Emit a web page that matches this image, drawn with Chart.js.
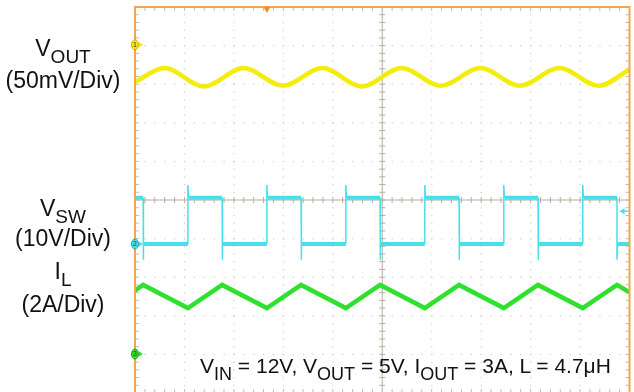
<!DOCTYPE html>
<html>
<head>
<meta charset="utf-8">
<script src="https://cdn.jsdelivr.net/npm/chart.js@4.4.1/dist/chart.umd.min.js"></script>
<style>
  html, body { margin: 0; padding: 0; overflow: hidden; background: #fff; }
  #wrap { position: relative; width: 634px; height: 394px; }
  .lbl {
    position: absolute;
    font-family: "Liberation Sans", Arial, sans-serif;
    font-size: 23px;
    line-height: 23px;
    color: #111;
    white-space: nowrap;
  }
  .side { left: 0; width: 126px; text-align: center; }
  .lbl sub { font-size: 19px; line-height: 0; vertical-align: -7px; }
  .note sub { font-size: 18px; }
</style>
</head>
<body>
<div id="wrap">
  <canvas id="scope"></canvas>
  <div class="lbl side" style="top:37px">V<sub>OUT</sub></div>
  <div class="lbl side" style="top:69px">(50mV/Div)</div>
  <div class="lbl side" style="top:197px">V<sub>SW</sub></div>
  <div class="lbl side" style="top:227px">(10V/Div)</div>
  <div class="lbl side" style="top:260px">I<sub>L</sub></div>
  <div class="lbl side" style="top:293px">(2A/Div)</div>
  <div class="lbl note" style="top:355px; left:200px; font-size:21px; line-height:21px">V<sub>IN</sub> = 12V, V<sub>OUT</sub> = 5V, I<sub>OUT</sub> = 3A, L = 4.7&mu;H</div>
</div>
<script>
// time is in screen divisions (10 across), values in the channel's own units

// CH1 - output ripple, peaks and valleys (mV from the ch1 marker)
const voutT  = [0, 0.597, 1.395, 2.194, 2.992, 3.791, 4.589, 5.388, 6.186, 6.985, 7.783, 8.582, 9.38, 10];
const voutMv = [-48, -30, -54, -30, -53, -30, -54, -30, -53, -30, -53, -30, -53, -32];

// CH2 - switch node edges and levels (V)
const swFall = [0.165, 1.762, 3.359, 4.956, 6.553, 8.15, 9.747];
const swRise = [1.07, 2.667, 4.264, 5.861, 7.458, 9.055];
const swHigh = 12, swLow = 0, swOvershoot = 15.3, swUndershoot = -4.1;

// CH3 - inductor current corners (A)
const ilT = [0, 0.165, 1.07, 1.762, 2.667, 3.359, 4.264, 4.956, 5.861, 6.553, 7.458, 8.15, 9.055, 9.747, 10];
const ilA = [3.3, 3.58, 2.38, 3.58, 2.38, 3.58, 2.38, 3.58, 2.38, 3.58, 2.38, 3.58, 2.38, 3.58, 3.2];

// channel scale + marker position (divisions from screen centre)
const ch1 = { perDiv: 50, ground: 4.02 };
const ch2 = { perDiv: 10, ground: -1.14 };
const ch3 = { perDiv: 2, ground: -3.99 };
const trigTime = 2.667, trigLevel = 8.5;

const toDiv = (ch, v) => ch.ground + v / ch.perDiv;

const voutPts = voutT.map((t, i) => ({ x: t, y: toDiv(ch1, voutMv[i]) }));
const ilPts = ilT.map((t, i) => ({ x: t, y: toDiv(ch3, ilA[i]) }));

const edges = swFall.map(t => ({ t, up: false }))
  .concat(swRise.map(t => ({ t, up: true })))
  .sort((a, b) => a.t - b.t);
const vswRaw = [{ x: 0, y: swHigh }];
edges.forEach(e => {
  if (e.up) vswRaw.push({ x: e.t, y: swLow }, { x: e.t, y: swOvershoot }, { x: e.t + 0.012, y: swHigh });
  else vswRaw.push({ x: e.t, y: swHigh }, { x: e.t, y: swUndershoot }, { x: e.t + 0.012, y: swLow });
});
vswRaw.push({ x: 10, y: swLow });
const vswPts = vswRaw.map(p => ({ x: p.x, y: toDiv(ch2, p.y) }));

const YELLOW = "#f4ec0a", CYAN = "#45e0ee", GREEN = "#2fe02f", ORANGE = "#f2a64e";

// graticule: dotted divisions, centre cross with ticks, edge ticks
const graticule = {
  id: "graticule",
  beforeDatasetsDraw(chart) {
    const { ctx, chartArea: a, scales: { x, y } } = chart;
    ctx.save();
    ctx.fillStyle = "#cccccc";
    for (let i = 1; i < 10; i++) {
      if (i === 5) continue;
      const px = x.getPixelForValue(i);
      for (let m = -25; m <= 25; m++) ctx.fillRect(px - 0.5, y.getPixelForValue(m / 5) - 0.5, 1.2, 1.2);
    }
    for (let j = -4; j <= 4; j++) {
      if (j === 0) continue;
      const py = y.getPixelForValue(j);
      for (let m = 0; m <= 50; m++) ctx.fillRect(x.getPixelForValue(m / 5) - 0.5, py - 0.5, 1.2, 1.2);
    }
    // centre lines
    const cx = x.getPixelForValue(5), cy = y.getPixelForValue(0);
    ctx.strokeStyle = "#b8ad9f";
    ctx.lineWidth = 1;
    ctx.beginPath();
    ctx.moveTo(cx, a.top); ctx.lineTo(cx, a.bottom);
    ctx.moveTo(a.left, cy); ctx.lineTo(a.right, cy);
    for (let m = 0; m <= 50; m++) {
      const px = x.getPixelForValue(m / 5);
      ctx.moveTo(px, cy - 3); ctx.lineTo(px, cy + 3);
    }
    for (let m = -25; m <= 25; m++) {
      const py = y.getPixelForValue(m / 5);
      ctx.moveTo(cx - 3, py); ctx.lineTo(cx + 3, py);
    }
    ctx.stroke();
    // ticks on the frame
    ctx.strokeStyle = "#c0bcb6";
    ctx.beginPath();
    for (let m = 1; m < 50; m++) {
      const px = x.getPixelForValue(m / 5);
      ctx.moveTo(px, a.top); ctx.lineTo(px, a.top + 4);
      ctx.moveTo(px, a.bottom); ctx.lineTo(px, a.bottom - 4);
    }
    for (let m = -24; m < 25; m++) {
      const py = y.getPixelForValue(m / 5);
      ctx.moveTo(a.left, py); ctx.lineTo(a.left + 4, py);
      ctx.moveTo(a.right, py); ctx.lineTo(a.right - 4, py);
    }
    ctx.stroke();
    ctx.restore();
  },
  afterDatasetsDraw(chart) {
    const { ctx, chartArea: a, scales: { x, y } } = chart;
    ctx.save();
    ctx.strokeStyle = ORANGE;
    ctx.lineWidth = 2;
    ctx.strokeRect(a.left, a.top, a.right - a.left, a.bottom - a.top);

    // trigger position marker on top edge
    const tx = x.getPixelForValue(trigTime);
    ctx.fillStyle = "#f28c1c";
    ctx.beginPath();
    ctx.moveTo(tx - 3.5, a.top); ctx.lineTo(tx + 3.5, a.top); ctx.lineTo(tx, a.top + 6);
    ctx.closePath(); ctx.fill();

    // trigger level arrow on the right
    const ty = y.getPixelForValue(toDiv(ch2, trigLevel));
    ctx.fillStyle = CYAN;
    ctx.beginPath();
    ctx.moveTo(a.right - 10, ty); ctx.lineTo(a.right - 5, ty - 3); ctx.lineTo(a.right - 5, ty + 3);
    ctx.closePath(); ctx.fill();
    ctx.fillRect(a.right - 6, ty - 0.75, 5, 1.5);

    // channel ground markers on the left
    [[ch1, YELLOW, "#d7a400", "1"], [ch2, CYAN, "#1fa7c0", "2"], [ch3, GREEN, "#17a817", "3"]].forEach(([ch, fill, edge, num]) => {
      const my = y.getPixelForValue(ch.ground);
      ctx.fillStyle = fill;
      ctx.beginPath();
      ctx.moveTo(a.left + 4, my - 2.5); ctx.lineTo(a.left + 8, my); ctx.lineTo(a.left + 4, my + 2.5);
      ctx.closePath(); ctx.fill();
      ctx.fillRect(a.left + 3, my - 0.75, 3, 1.5);
      ctx.beginPath();
      ctx.ellipse(a.left, my, 3.5, 5, 0, 0, Math.PI * 2);
      ctx.fill();
      ctx.strokeStyle = edge;
      ctx.lineWidth = 1;
      ctx.stroke();
      ctx.fillStyle = "#333";
      ctx.font = "7px 'Liberation Sans', Arial, sans-serif";
      ctx.textAlign = "center";
      ctx.textBaseline = "middle";
      ctx.fillText(num, a.left, my + 0.5);
    });
    ctx.restore();
  }
};

new Chart(document.getElementById("scope"), {
  type: "line",
  data: {
    datasets: [
      {
        label: "VOUT",
        data: voutPts,
        borderColor: YELLOW,
        borderWidth: 4.5,
        cubicInterpolationMode: "monotone",
        pointRadius: 0
      },
      {
        label: "VSW",
        data: vswPts,
        borderColor: CYAN,
        borderWidth: 4,
        tension: 0,
        pointRadius: 0,
        segment: {
          borderWidth: c => Math.abs(c.p1.parsed.x - c.p0.parsed.x) < 0.05 ? 1.5 : 4
        }
      },
      {
        label: "IL",
        data: ilPts,
        borderColor: GREEN,
        borderWidth: 4.5,
        tension: 0,
        pointRadius: 0
      }
    ]
  },
  options: {
    responsive: true,
    maintainAspectRatio: false,
    animation: false,
    layout: { padding: { left: 135, top: 7, right: 4.5, bottom: 1 } },
    plugins: { legend: { display: false }, tooltip: { enabled: false } },
    scales: {
      x: { type: "linear", min: 0, max: 10, display: false },
      y: { type: "linear", min: -5, max: 5, display: false }
    }
  },
  plugins: [graticule]
});
</script>
</body>
</html>
